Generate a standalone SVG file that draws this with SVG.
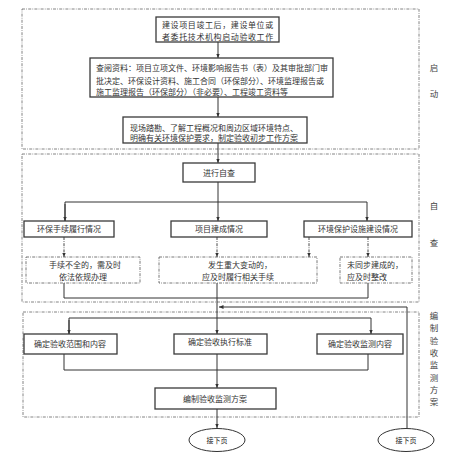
<svg xmlns="http://www.w3.org/2000/svg" width="466" height="464" viewBox="0 0 466 464">
<style>
.bg{fill:#ffffff}
.box{fill:#ffffff;stroke:#3a3a3a;stroke-width:1.3}
.dbox{fill:#ffffff;stroke:#555;stroke-width:0.8;stroke-dasharray:3 1.2 0.8 1.2}
.zone{fill:none;stroke:#666;stroke-width:0.8;stroke-dasharray:3 1.2 0.8 1.2}
.t{font-family:"Noto Sans CJK SC","Noto Sans",sans-serif;font-size:8px;fill:#333}
.c{text-anchor:middle}
.side{font-family:"Noto Sans CJK SC",sans-serif;font-size:8.5px;fill:#444;text-anchor:middle}
.ln{fill:none;stroke:#333;stroke-width:1}
.dl{fill:none;stroke:#333;stroke-width:0.9;stroke-dasharray:3 1.2 0.8 1.2}
.ov{fill:#ffffff;stroke:#333;stroke-width:1}
.pg{font-family:"Noto Sans CJK SC",sans-serif;font-size:7px;fill:#222;text-anchor:middle}
</style>
<defs>
<marker id="ar" markerWidth="5" markerHeight="5" refX="4.5" refY="2.5" orient="auto" markerUnits="userSpaceOnUse">
<path d="M0,0.6 L4.5,2.5 L0,4.4 Z" fill="#333"/>
</marker>
</defs>
<rect class="bg" x="0" y="0" width="466" height="464"/>

<g id="zones">
<rect class="zone" x="22" y="9" width="397" height="140"/>
<rect class="zone" x="22" y="154" width="397" height="148"/>
<rect class="zone" x="23" y="312" width="396" height="105"/>
</g>

<g id="side-labels">
<text class="side" x="434" y="71">启</text>
<text class="side" x="434" y="97">动</text>
<text class="side" x="434" y="209">自</text>
<text class="side" x="434" y="246">查</text>
<text class="side" x="434" y="319">编</text>
<text class="side" x="434" y="331">制</text>
<text class="side" x="434" y="344">验</text>
<text class="side" x="434" y="356">收</text>
<text class="side" x="434" y="368">监</text>
<text class="side" x="434" y="381">测</text>
<text class="side" x="434" y="393">方</text>
<text class="side" x="434" y="405">案</text>
</g>

<g id="connectors">
<path class="ln" d="M218,42 V58" marker-end="url(#ar)"/>
<path class="ln" d="M218,97 V117" marker-end="url(#ar)"/>
<path class="ln" d="M218,143 V163" marker-end="url(#ar)"/>
<path class="ln" d="M218,182 V221" marker-end="url(#ar)"/>
<path class="ln" d="M65,221 V202 H367 V221" marker-end="url(#ar)"/>
<path class="ln" d="M65,204 V221" marker-end="url(#ar)"/>
<path class="dl" d="M64,237 V257" marker-end="url(#ar)"/>
<path class="dl" d="M217,237 V257" marker-end="url(#ar)"/>
<path class="dl" d="M309,237 V257" marker-end="url(#ar)"/>
<path class="dl" d="M368,237 V257" marker-end="url(#ar)"/>
<path class="ln" d="M64,283 V298 H368 V283"/>
<path class="ln" d="M217,283 V334" marker-end="url(#ar)"/>
<path class="ln" d="M407,428 V307 H219" marker-end="url(#ar)"/>
<path class="ln" d="M69,334 V318 H371 V334" marker-end="url(#ar)"/>
<path class="ln" d="M69,320 V334" marker-end="url(#ar)"/>
<path class="ln" d="M64,354 V370 H368 V354"/>
<path class="ln" d="M217,354 V388" marker-end="url(#ar)"/>
<path class="ln" d="M217,409 V428" marker-end="url(#ar)"/>
</g>

<g id="n1">
<rect class="box" x="156" y="17" width="123" height="25"/>
<text class="t" x="162" y="28" style="letter-spacing:0.6px">建设项目竣工后，建设单位或</text>
<text class="t" x="162" y="40" style="letter-spacing:0.6px">者委托技术机构启动验收工作</text>
</g>
<g id="n2">
<rect class="box" x="90" y="58" width="243" height="39"/>
<text class="t" x="96" y="71">查阅资料：项目立项文件、环境影响报告书（表）及其审批部门审</text>
<text class="t" x="96" y="83.5">批决定、环保设计资料、施工合同（环保部分）、环境监理报告或</text>
<text class="t" x="96" y="95">施工监理报告（环保部分）（非必要）、工程竣工资料等</text>
</g>
<g id="n3">
<rect class="box" x="123" y="117" width="184" height="26"/>
<text class="t" x="130" y="131">现场踏勘、了解工程概况和周边区域环境特点、</text>
<text class="t" x="130" y="141">明确有关环境保护要求，制定验收初步工作方案</text>
</g>
<g id="n4">
<rect class="box" x="183" y="163" width="72" height="19"/>
<text class="t c" x="219" y="175.5">进行自查</text>
</g>
<g id="n5">
<rect class="box" x="24" y="221" width="90" height="16"/>
<text class="t c" x="69" y="232">环保手续履行情况</text>
</g>
<g id="n6">
<rect class="box" x="171" y="221" width="96" height="16"/>
<text class="t c" x="219" y="232">项目建成情况</text>
</g>
<g id="n7">
<rect class="box" x="304" y="221" width="108" height="16"/>
<text class="t c" x="358" y="232">环境保护设施建设情况</text>
</g>
<g id="n8">
<rect class="dbox" x="26" y="257" width="114" height="26"/>
<text class="t c" x="85" y="268">手续不全的，需及时</text>
<text class="t c" x="83" y="279.5">依法依规办理</text>
</g>
<g id="n9">
<rect class="dbox" x="159" y="257" width="158" height="26"/>
<text class="t c" x="240" y="268">发生重大变动的，</text>
<text class="t c" x="238" y="279.5">应及时履行相关手续</text>
</g>
<g id="n10">
<rect class="dbox" x="340" y="257" width="72" height="26"/>
<text class="t" x="347" y="268">未同步建成的，</text>
<text class="t" x="347" y="279.5">应及时整改</text>
</g>
<g id="n11">
<rect class="box" x="24" y="334" width="93" height="20"/>
<text class="t c" x="70" y="347">确定验收范围和内容</text>
</g>
<g id="n12">
<rect class="box" x="174" y="334" width="93" height="20"/>
<text class="t c" x="220" y="345">确定验收执行标准</text>
</g>
<g id="n13">
<rect class="box" x="317" y="334" width="86" height="20"/>
<text class="t c" x="360" y="347">确定验收监测内容</text>
</g>
<g id="n14">
<rect class="box" x="155" y="388" width="121" height="21"/>
<text class="t c" x="215" y="401.5">编制验收监测方案</text>
</g>
<g id="n15">
<ellipse class="ov" cx="217" cy="440" rx="28" ry="11.5"/>
<text class="pg" x="217" y="442.5">接下页</text>
</g>
<g id="n16">
<ellipse class="ov" cx="406" cy="440" rx="28" ry="11.5"/>
<text class="pg" x="406" y="442.5">接下页</text>
</g>
</svg>
